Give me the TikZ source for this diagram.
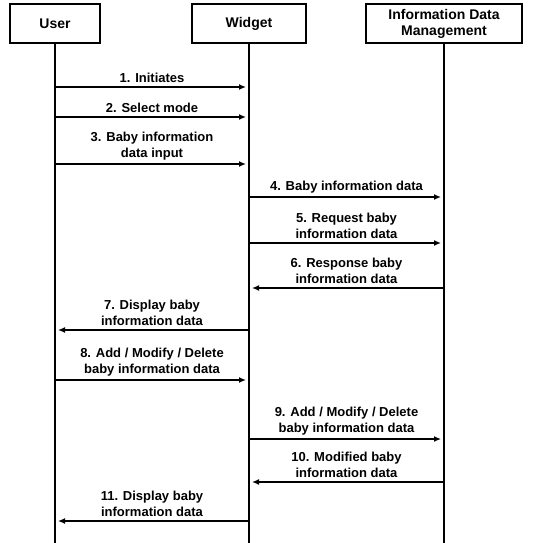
\documentclass[tikz,border=0pt]{standalone}
\usepackage{fontspec}
\setmainfont{Liberation Sans}
\usetikzlibrary{arrows.meta}

\begin{document}
\begin{tikzpicture}[x=1pt,y=-1pt,
  actor/.style={draw,line width=2.6pt,minimum height=39pt,inner sep=2pt,align=center,font=\bfseries\fontsize{14}{16}\selectfont},
  lifeline/.style={line width=2.2pt},
  msg/.style={-{Latex[length=7pt,width=6pt]},line width=1.3pt,shorten >=3pt},
  lbl/.style={above=0pt,align=center,font=\bfseries\fontsize{13}{16}\selectfont}]
\useasboundingbox (0,0) rectangle (537,543);

% participants
\node[actor,minimum width=90pt] (user) at (55,23.5) {User};
\node[actor,minimum width=114pt] (widget) at (249,23.5) {Widget};
\node[actor,minimum width=156pt] (idm) at (444,23.5) {Information Data\\Management};

\coordinate (user end) at (55,543);
\coordinate (widget end) at (249,543);
\coordinate (idm end) at (444,543);

\draw[lifeline] (user.south) -- (user end);
\draw[lifeline] (widget.south) -- (widget end);
\draw[lifeline] (idm.south) -- (idm end);

% messages
\draw[msg] (user |- 0,87) -- node[lbl] {1. Initiates} (widget |- 0,87);
\draw[msg] (user |- 0,117) -- node[lbl] {2. Select mode} (widget |- 0,117);
\draw[msg] (user |- 0,164) -- node[lbl] {3. Baby information\\data input} (widget |- 0,164);
\draw[msg] (widget |- 0,197) -- node[lbl] {4. Baby information data} (idm |- 0,197);
\draw[msg] (widget |- 0,243) -- node[lbl] {5. Request baby\\information data} (idm |- 0,243);
\draw[msg] (idm |- 0,288) -- node[lbl] {6. Response baby\\information data} (widget |- 0,288);
\draw[msg] (widget |- 0,330) -- node[lbl] {7. Display baby\\information data} (user |- 0,330);
\draw[msg] (user |- 0,380) -- node[lbl] {8. Add / Modify / Delete\\baby information data} (widget |- 0,380);
\draw[msg] (widget |- 0,439) -- node[lbl] {9. Add / Modify / Delete\\baby information data} (idm |- 0,439);
\draw[msg] (idm |- 0,482) -- node[lbl] {10. Modified baby\\information data} (widget |- 0,482);
\draw[msg] (widget |- 0,521) -- node[lbl] {11. Display baby\\information data} (user |- 0,521);
\end{tikzpicture}
\end{document}
